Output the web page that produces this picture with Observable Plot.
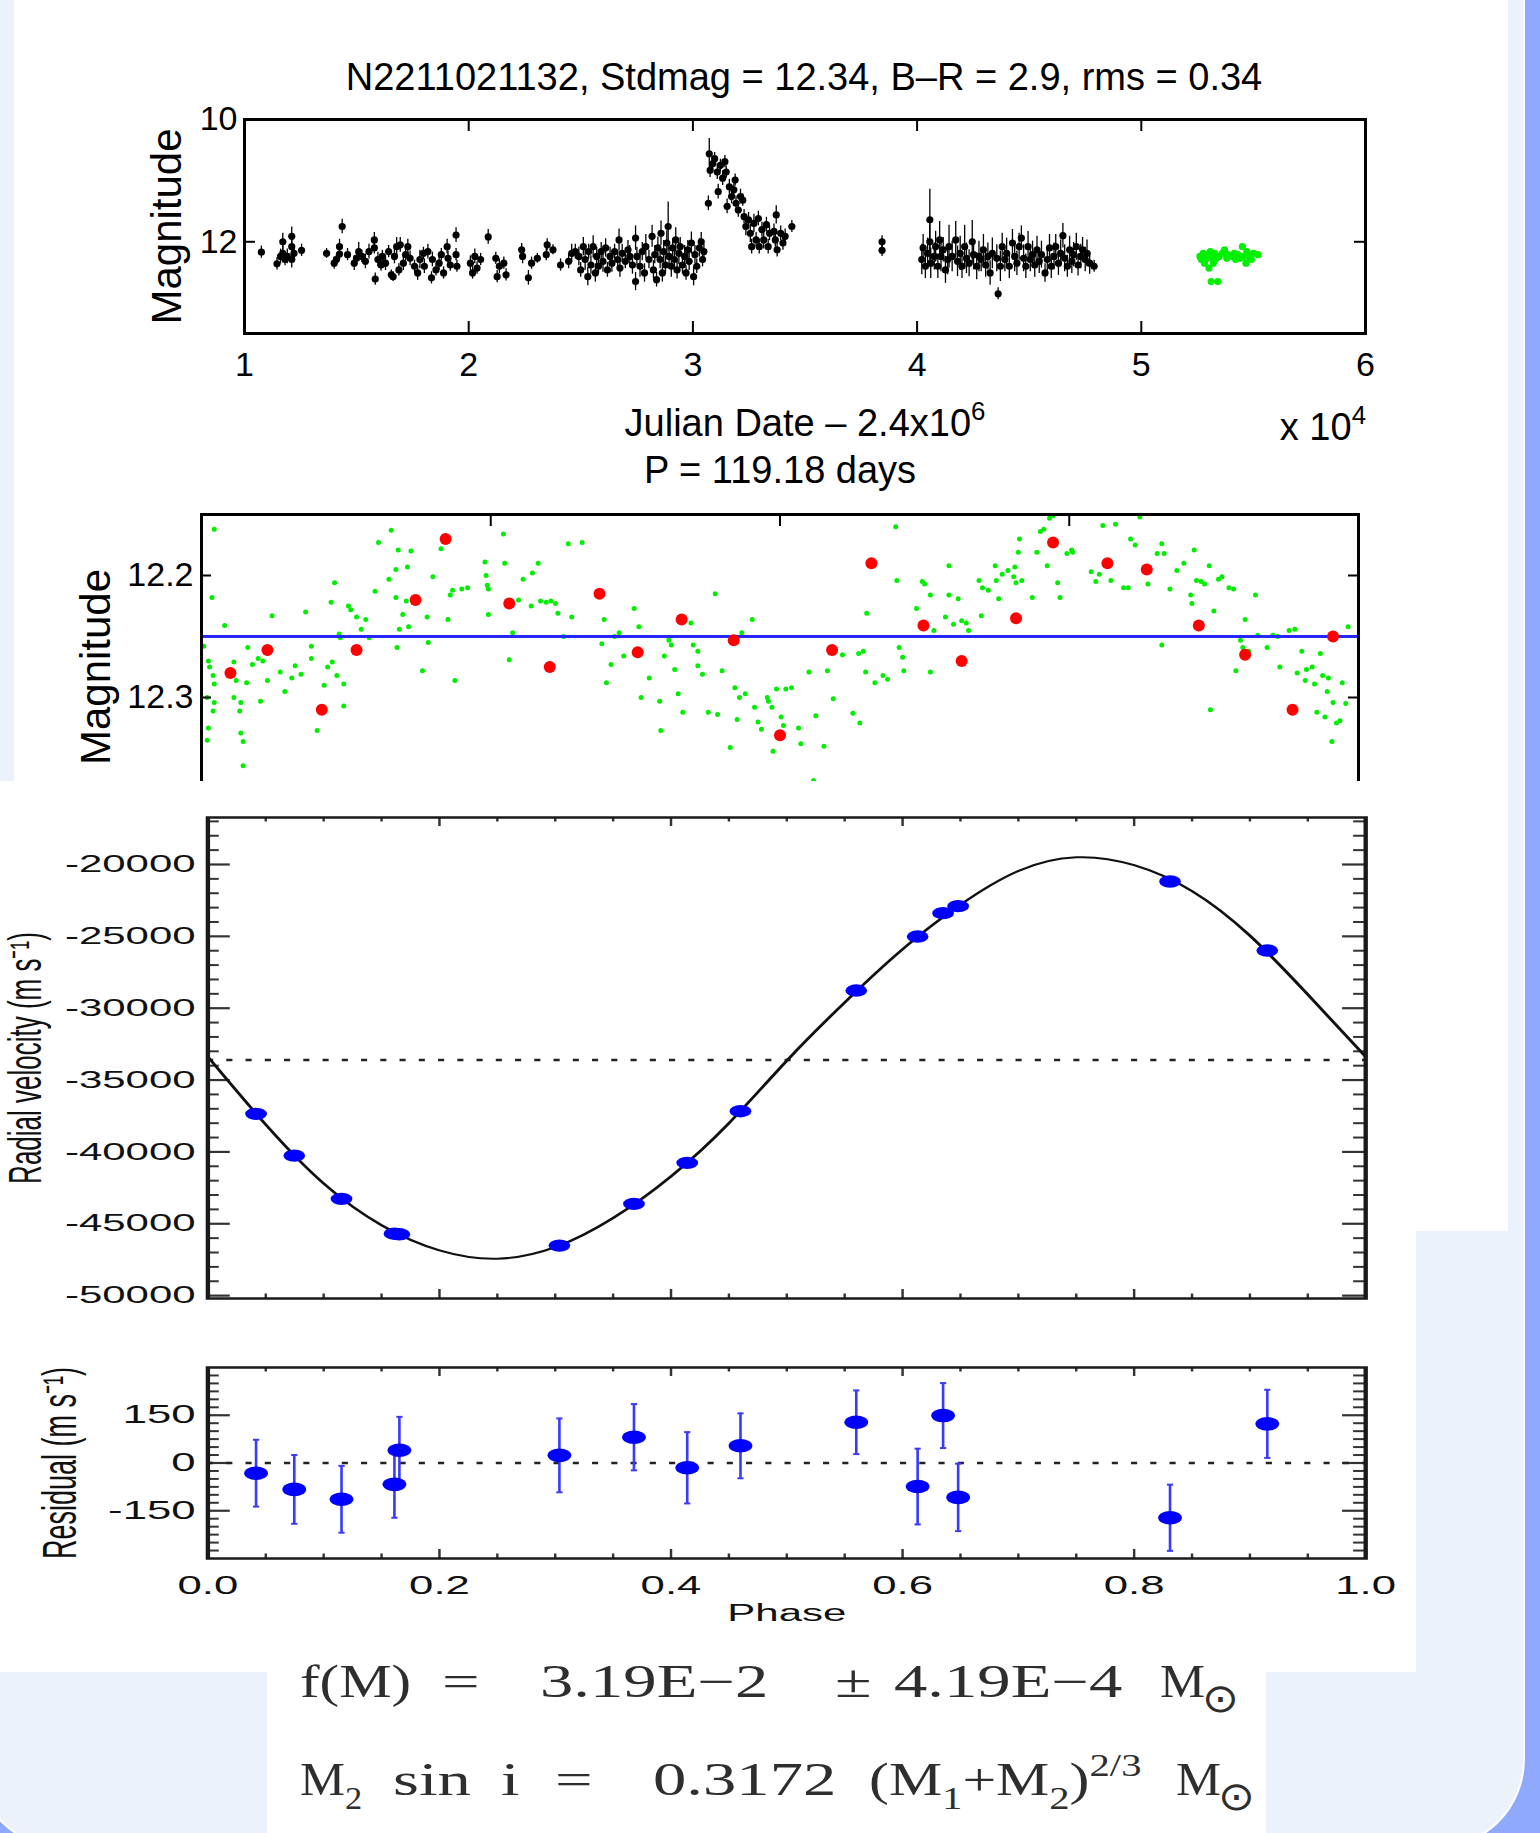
<!DOCTYPE html>
<html><head><meta charset="utf-8">
<script src="https://cdn.jsdelivr.net/npm/d3@7"></script>
<script src="https://cdn.jsdelivr.net/npm/@observablehq/plot@0.6"></script>
<style>
html,body{margin:0;padding:0;}
body{width:1540px;height:1833px;position:relative;overflow:hidden;background:#8ea9fd;}
.bg{position:absolute;}
.holder{position:absolute;transform-origin:0 0;}
.holder svg{display:block;max-width:none;}
</style></head><body>
<script>
// ---------------- DATA ----------------
const titleText = "N2211021132, Stdmag = 12.34, B–R = 2.9, rms = 0.34";
const xLabelParts = [["Julian Date – 2.4x10"], ["6", "sup"]];
const xScaleParts = [["x 10"], ["4", "sup"]];
const periodText = "P = 119.18 days";
const magLabel = "Magnitude";
const rvLabel = "Radial velocity (m s⁻¹)";
const residLabel = "Residual (m s⁻¹)";
const phaseLabel = "Phase";

// light curve: [JD - 2.4e6, magnitude, error]
const lcTicks = [10000, 20000, 30000, 40000, 50000, 60000];
const lcTickLabels = ["1", "2", "3", "4", "5", "6"];
const lcMagTicks = [10, 12];
const lcMagTickLabels = ["10", "12"];
const lcBlack = [
[10753,12.17,0.10],[11450,12.36,0.10],[11609,12.24,0.12],[11709,12.00,0.14],[11709,12.19,0.12],[11808,12.29,0.10],[11908,12.24,0.12],[12107,11.91,0.15],[12107,12.08,0.12],[12107,12.29,0.14],[12207,12.19,0.10],[12545,12.14,0.10],
[13661,12.19,0.08],[14000,12.35,0.10],[14099,12.29,0.08],[14238,12.08,0.12],[14238,12.20,0.10],[14357,11.75,0.12],[14596,12.21,0.10],[14895,12.35,0.12],[14995,12.27,0.10],[15094,12.16,0.15],[15234,12.24,0.10],[15393,12.32,0.12],[15552,12.16,0.12],[15791,11.97,0.12],[15791,12.10,0.10],[15831,12.61,0.10],[15951,12.29,0.12],[16090,12.38,0.10],[16150,12.24,0.10],[16289,12.35,0.12],[16429,12.16,0.10],[16548,12.54,0.08],[16628,12.57,0.08],[16688,12.24,0.12],[16787,12.08,0.15],[16887,12.46,0.10],[16947,12.05,0.12],[17086,12.35,0.12],[17186,12.21,0.10],[17285,12.08,0.12],[17385,12.27,0.12],[17584,12.40,0.10],[17723,12.51,0.12],[17823,12.29,0.15],[17982,12.19,0.10],[18022,12.40,0.12],[18181,12.16,0.12],[18341,12.59,0.10],[18381,12.29,0.12],[18540,12.46,0.10],[18680,12.35,0.12],[18779,12.21,0.10],[18879,12.51,0.10],[19038,12.08,0.12],[19078,12.27,0.12],[19177,12.38,0.10],[19436,12.21,0.10],[19436,11.89,0.12],[19476,12.40,0.10],
[20074,12.35,0.12],[20173,12.51,0.10],[20273,12.24,0.12],[20372,12.43,0.10],[20532,12.29,0.10],[20870,11.92,0.12],[21209,12.27,0.10],[21269,12.57,0.10],[21368,12.40,0.12],[21567,12.35,0.10],[21667,12.54,0.10],
[22364,12.13,0.10],[22404,12.24,0.12],[22663,12.59,0.12],[22803,12.35,0.10],[23062,12.27,0.08],[23460,12.21,0.10],[23500,12.05,0.10],[23759,12.13,0.08],[24097,12.38,0.10],
[24456,12.32,0.12],[24595,12.19,0.15],[24754,12.16,0.12],[24914,12.24,0.15],[24993,12.46,0.12],[25113,12.08,0.15],[25193,12.29,0.18],[25312,12.57,0.15],[25352,12.16,0.12],[25451,12.38,0.15],[25551,12.08,0.18],[25650,12.51,0.15],[25710,12.24,0.15],[25790,12.40,0.12],[25909,12.16,0.15],[25989,12.32,0.18],[26108,12.10,0.15],[26188,12.46,0.12],[26307,12.24,0.15],[26387,12.35,0.15],[26507,12.16,0.12],[26646,12.29,0.15],[26706,11.97,0.18],[26746,12.43,0.15],[26845,12.19,0.15],[26985,12.32,0.12],[27104,12.13,0.15],[27184,12.24,0.18],[27304,12.38,0.15],[27443,11.94,0.20],[27443,12.65,0.15],[27503,12.24,0.15],[27642,12.40,0.18],[27742,12.16,0.15],[27841,12.51,0.15],[27901,12.08,0.20],[28040,12.29,0.15],[28180,11.91,0.18],[28240,12.46,0.15],[28299,12.21,0.15],[28379,12.62,0.12],[28439,12.10,0.18],[28538,12.29,0.15],[28578,11.86,0.20],[28638,12.51,0.15],[28698,12.16,0.18],[28777,12.38,0.15],[28837,12.02,0.20],[28897,11.75,0.40],[28937,12.24,0.15],[29036,12.40,0.18],[29096,12.10,0.15],[29176,12.29,0.18],[29235,11.97,0.20],[29295,12.46,0.15],[29375,12.19,0.18],[29435,12.08,0.15],[29534,12.38,0.15],[29634,12.24,0.18],[29694,12.51,0.12],[29773,12.13,0.15],[29833,12.32,0.15],[29933,12.02,0.18],[30032,12.57,0.15],[30092,12.21,0.15],[30172,12.40,0.12],[30291,12.10,0.15],[30371,12.00,0.15],[30431,12.29,0.12],[30491,12.16,0.12],
[30690,11.37,0.12],[30730,10.56,0.25],[30769,10.83,0.12],[30889,10.72,0.10],[30968,10.64,0.10],[31088,10.86,0.12],[31128,11.18,0.12],[31227,10.75,0.10],[31327,10.96,0.12],[31427,10.69,0.10],[31486,10.86,0.10],[31526,11.42,0.12],[31626,11.10,0.12],[31725,11.26,0.12],[31825,11.15,0.10],[31884,10.99,0.10],[31924,11.37,0.12],[32024,11.48,0.12],[32123,11.26,0.12],[32223,11.32,0.10],[32283,11.59,0.12],[32362,11.75,0.15],[32482,11.64,0.12],[32561,11.86,0.15],[32621,12.08,0.12],[32721,11.70,0.15],[32820,11.97,0.12],[32920,11.62,0.12],[32960,12.08,0.12],[33080,11.80,0.12],[33159,11.97,0.15],[33279,11.72,0.12],[33358,12.08,0.12],[33418,11.86,0.12],[33617,11.83,0.12],[33677,11.97,0.12],[33717,11.56,0.15],[33757,12.13,0.12],[33916,11.86,0.12],[34016,12.02,0.12],[34115,11.91,0.12],[34414,11.75,0.10],
[38437,12.00,0.10],[38437,12.14,0.10],
[40209,12.29,0.25],[40269,12.10,0.22],[40369,12.40,0.20],[40468,12.19,0.25],[40568,11.64,0.50],[40568,12.00,0.30],[40608,12.35,0.25],[40767,12.24,0.22],[40827,12.08,0.25],[40926,12.40,0.20],[41006,11.97,0.30],[41066,12.24,0.25],[41165,12.13,0.20],[41265,12.46,0.22],[41365,12.29,0.25],[41424,12.08,0.35],[41564,12.24,0.25],[41723,11.97,0.30],[41803,12.32,0.25],[41922,12.19,0.28],[42002,12.40,0.20],[42121,12.08,0.35],[42201,12.27,0.25],[42320,12.35,0.22],[42460,12.00,0.35],[42520,12.21,0.25],[42659,12.40,0.22],[42759,12.24,0.25],[42858,12.29,0.20],[42958,12.13,0.25],[43057,12.38,0.20],[43157,12.24,0.22],[43257,12.51,0.20],[43356,12.19,0.25],[43615,12.85,0.10],[43555,12.27,0.22],[43715,12.40,0.25],[43795,12.08,0.22],[43914,12.29,0.20],[43994,12.19,0.25],[44113,12.40,0.20],[44253,12.02,0.22],[44352,12.24,0.25],[44452,12.35,0.20],[44551,12.08,0.22],[44651,11.94,0.20],[44750,12.27,0.22],[44850,12.40,0.20],[44950,12.08,0.25],[45049,12.29,0.20],[45149,12.21,0.22],[45248,12.38,0.20],[45348,12.13,0.22],[45448,12.32,0.20],[45547,12.21,0.22],[45706,12.51,0.15],[45806,12.29,0.20],[45905,12.10,0.22],[45985,12.40,0.20],[46105,12.24,0.22],[46184,12.08,0.20],[46304,12.35,0.20],[46403,12.19,0.22],[46503,11.90,0.20],[46583,12.27,0.22],[46702,12.40,0.18],[46802,12.13,0.22],[46901,12.32,0.20],[46981,12.21,0.20],[47101,12.08,0.22],[47180,12.38,0.18],[47300,12.24,0.20],[47380,12.13,0.20],[47499,12.29,0.20],[47579,12.19,0.22],[47698,12.35,0.18],[47897,12.40,0.10]
];
const lcGreen = [
[52618,12.24],[52678,12.29],[52758,12.19],[52817,12.35],[52877,12.21],[52957,12.27],[53016,12.43],[53076,12.16],[53116,12.65],[53156,12.24],[53215,12.35],[53275,12.19],[53355,12.27],[53414,12.65],[53474,12.24],[53614,12.19],[53713,12.13],[53813,12.27],[53872,12.21],[54071,12.24],[54151,12.19],[54211,12.29],[54310,12.21],[54410,12.27],[54510,12.08],[54569,12.24],[54669,12.35],[54709,12.16],[54808,12.24],[54908,12.29],[55007,12.19],[55207,12.21]
];

// phase-folded light curve: [phase, magnitude]
const foldMagTicks = [12.2, 12.3];
const foldPhaseTicks = [0.25, 0.5, 0.75];
const meanMag = 12.25;
const phasedGreen = [
[0.002,12.258],[0.006,12.270],[0.007,12.275],[0.011,12.162],[0.009,12.218],[0.010,12.282],[0.011,12.289],[0.005,12.300],[0.010,12.311],[0.006,12.325],[0.005,12.335],[0.011,12.304],
[0.020,12.241],[0.026,12.281],[0.028,12.271],[0.030,12.286],[0.028,12.300],[0.033,12.311],[0.034,12.329],[0.036,12.336],[0.036,12.356],[0.039,12.288],[0.034,12.304],
[0.040,12.259],[0.044,12.273],[0.049,12.268],[0.051,12.303],[0.053,12.270],[0.057,12.286],[0.061,12.233],[0.068,12.279],[0.072,12.295],[0.078,12.284],[0.081,12.274],
[0.086,12.281],[0.090,12.230],[0.095,12.258],[0.095,12.268],[0.100,12.327],[0.106,12.290],[0.109,12.275],[0.112,12.222],[0.113,12.271],[0.115,12.206],[0.117,12.282],[0.119,12.248],[0.120,12.251],[0.123,12.289],[0.123,12.307],[0.127,12.225],[0.129,12.228],
[0.134,12.234],[0.138,12.244],[0.142,12.236],[0.145,12.251],[0.150,12.213],[0.153,12.173],[0.162,12.203],[0.164,12.163],[0.168,12.195],[0.168,12.218],[0.169,12.259],[0.170,12.179],[0.171,12.244],[0.174,12.232],[0.177,12.221],[0.178,12.193],[0.179,12.242],[0.181,12.180],
[0.191,12.278],[0.195,12.234],[0.196,12.255],[0.200,12.201],[0.207,12.178],[0.213,12.236],[0.215,12.216],[0.217,12.212],[0.219,12.286],[0.225,12.211],
[0.230,12.210],[0.245,12.189],[0.246,12.200],[0.247,12.208],[0.248,12.211],[0.248,12.232],[0.261,12.166],[0.262,12.190],[0.266,12.269],[0.269,12.247],[0.274,12.220],[0.278,12.203],[0.285,12.225],[0.286,12.198],[0.291,12.190],[0.293,12.221],[0.298,12.222],[0.302,12.221],[0.306,12.223],[0.308,12.231],[0.313,12.250],[0.317,12.174],[0.320,12.234],[0.329,12.173],
[0.346,12.256],[0.348,12.236],[0.350,12.288],[0.354,12.273],[0.357,12.250],[0.361,12.247],[0.365,12.266],[0.374,12.227],[0.378,12.242],[0.380,12.300],[0.387,12.284],[0.396,12.303],[0.397,12.327],[0.400,12.266],[0.404,12.253],[0.406,12.257],[0.409,12.277],[0.412,12.297],[0.416,12.312],[0.423,12.239],[0.425,12.257],[0.429,12.262],[0.429,12.274],[0.433,12.281],[0.438,12.312],[0.444,12.215],[0.446,12.314],[0.450,12.278],[0.457,12.341],[0.461,12.292],[0.463,12.318],[0.465,12.300],[0.467,12.247],[0.470,12.297],[0.476,12.236],[0.478,12.308],[0.481,12.320],[0.484,12.326],[0.489,12.300],[0.490,12.303],[0.493,12.308],[0.494,12.344],[0.497,12.293],[0.501,12.316],[0.503,12.323],[0.505,12.293],[0.510,12.292],[0.516,12.325],[0.518,12.338],[0.525,12.279],[0.529,12.368],[0.531,12.315],[0.538,12.340],[0.541,12.278],[0.546,12.301],[0.554,12.265],[0.563,12.313],[0.568,12.264],[0.569,12.321],[0.572,12.262],[0.574,12.279],[0.575,12.231],[0.582,12.288],[0.589,12.282],[0.593,12.285],
[0.600,12.160],[0.601,12.204],[0.603,12.259],[0.606,12.267],[0.607,12.278],[0.618,12.227],[0.623,12.205],[0.625,12.207],[0.630,12.216],[0.630,12.279],[0.633,12.245],[0.643,12.234],[0.646,12.192],[0.646,12.216],[0.650,12.240],[0.654,12.219],[0.657,12.237],[0.661,12.239],[0.663,12.245],[0.672,12.204],[0.674,12.233],[0.675,12.210],[0.680,12.212],[0.686,12.192],[0.687,12.204],[0.689,12.219],[0.692,12.199],[0.697,12.196],[0.702,12.201],[0.703,12.193],[0.704,12.206],[0.706,12.181],[0.707,12.170],[0.709,12.204],[0.718,12.218],[0.722,12.181],[0.725,12.164],[0.728,12.162],[0.731,12.192],[0.733,12.153],[0.736,12.151],[0.740,12.206],[0.742,12.218],[0.748,12.182],[0.752,12.179],[0.753,12.181],
[0.769,12.197],[0.773,12.205],[0.776,12.199],[0.779,12.159],[0.786,12.204],[0.790,12.158],[0.797,12.210],[0.801,12.210],[0.803,12.170],[0.807,12.175],[0.811,12.152],[0.818,12.207],[0.826,12.182],[0.830,12.174],[0.832,12.182],[0.837,12.211],[0.843,12.196],[0.849,12.190],[0.855,12.216],[0.856,12.223],[0.858,12.179],[0.860,12.204],[0.864,12.205],[0.867,12.207],[0.871,12.192],[0.875,12.229],[0.879,12.203],[0.882,12.201],[0.888,12.210],[0.892,12.211],[0.894,12.278],[0.898,12.253],[0.900,12.259],[0.902,12.236],[0.905,12.262],[0.911,12.216],[0.913,12.249],[0.921,12.259],[0.926,12.249],[0.930,12.250],[0.932,12.275],[0.940,12.245],[0.945,12.244],[0.947,12.280],[0.951,12.262],[0.954,12.286],[0.955,12.277],[0.960,12.275],[0.962,12.289],[0.964,12.312],[0.967,12.264],[0.969,12.282],[0.971,12.316],[0.973,12.295],[0.974,12.284],[0.977,12.336],[0.978,12.304],[0.981,12.321],[0.984,12.319],[0.986,12.288],[0.989,12.305],[0.991,12.242],[0.872,12.310],[0.830,12.257]
];
const phasedRed = [
[0.025,12.280],[0.057,12.261],[0.104,12.310],[0.134,12.261],[0.185,12.220],[0.211,12.170],[0.266,12.223],[0.301,12.275],[0.344,12.215],[0.377,12.263],[0.415,12.236],[0.460,12.253],[0.500,12.331],[0.545,12.261],[0.579,12.190],[0.624,12.241],[0.657,12.270],[0.704,12.235],[0.736,12.173],[0.783,12.190],[0.817,12.195],[0.862,12.241],[0.902,12.265],[0.943,12.310],[0.978,12.250]
];

// radial velocity
const rvTicks = [-50000, -45000, -40000, -35000, -30000, -25000, -20000];
const rvTickLabels = ["-50000", "-45000", "-40000", "-35000", "-30000", "-25000", "-20000"];
const gammaVel = -33600;
const rvPhase = [0.0416, 0.0746, 0.1154, 0.1611, 0.1654, 0.3036, 0.368, 0.414, 0.46, 0.56, 0.613, 0.635, 0.648, 0.831, 0.915];
const rvVel = [-37355, -40255, -43271, -45690, -45730, -46520, -43619, -40766, -37169, -28770, -25012, -23387, -22900, -21183, -25986];
const fitPhase = [0, 0.05, 0.10, 0.15, 0.20, 0.25, 0.30, 0.35, 0.40, 0.45, 0.50, 0.55, 0.60, 0.65, 0.70, 0.75, 0.80, 0.85, 0.90, 0.95, 1.0];
const fitVel = [-33380, -38100, -42200, -45100, -46850, -47430, -46630, -44600, -41700, -38000, -33650, -29600, -25900, -22800, -20450, -19500, -20050, -21850, -24950, -29050, -33380];

// residuals
const residVal = [-32, -83, -114, -67, 40, 24, 81, -15, 54, 128, -74, 149, -108, -172, 123];
const residErr = [105, 108, 105, 105, 105, 116, 104, 112, 102, 100, 119, 102, 106, 104, 107];
const residTicks = [-150, 0, 150];
const residTickLabels = ["-150", "0", "150"];
const phaseTicks = [0, 0.2, 0.4, 0.6, 0.8, 1.0];
const phaseTickLabels = ["0.0", "0.2", "0.4", "0.6", "0.8", "1.0"];

// mass function text
const formulaLine1 = [
  [["f(M)"]], [["="]], [["3.19E−2"]], [["±"]], [["4.19E−4"]], [["M"], ["⊙", "sun"]]
];
const formulaLine2 = [
  [["M"], ["2", "sub"]], [["sin"]], [["i"]], [["="]], [["0.3172"]],
  [["(M"], ["1", "sub"], ["+M"], ["2", "sub"], [")"], ["2/3", "sup"]], [["M"], ["⊙", "sun"]]
];

// ---------------- LAYOUT ----------------
const FONT = "'Liberation Sans', Arial, Helvetica, sans-serif";
const SERIF = "'Liberation Serif', 'Times New Roman', serif";

function box(cls, css) {
  const d = document.createElement("div");
  d.className = cls; d.style.cssText = css;
  document.body.appendChild(d); return d;
}
// page backgrounds
box("bg", "left:-25px;top:-100px;width:1546px;height:1945px;border-radius:90px;background:#ebf2fb;border:2px solid #ffffff;");
box("bg", "left:14px;top:0;width:1494px;height:1231px;background:#fff;");
box("bg", "left:267px;top:1672px;width:999px;height:161px;background:#fff;");

function place(svg, left, top, sx, w, clipH) {
  const d = box("holder", `left:${left}px;top:${top}px;width:${w}px;transform:scaleX(${sx});` + (clipH ? `height:${clipH}px;overflow:hidden;` : ""));
  d.appendChild(svg);
}
function inwardTicks({fw, fh, xs = [], xLen = 0, ys = [], yLen = 0, sides, stroke = "black", sw = 2}) {
  const m = [];
  if (sides.includes("b")) m.push(Plot.ruleX(xs, {insetTop: fh - xLen, stroke, strokeWidth: sw}));
  if (sides.includes("t")) m.push(Plot.ruleX(xs, {insetBottom: fh - xLen, stroke, strokeWidth: sw}));
  if (sides.includes("l")) m.push(Plot.ruleY(ys, {insetRight: fw - yLen, stroke, strokeWidth: sw}));
  if (sides.includes("r")) m.push(Plot.ruleY(ys, {insetLeft: fw - yLen, stroke, strokeWidth: sw}));
  return m;
}
const labelMap = (ticks, labels) => { const mp = new Map(ticks.map((t, i) => [t, labels[i]])); return d => mp.get(d); };
const sideLabel = (txt, dx, size) => Plot.text([txt], {frameAnchor: "left", textAnchor: "middle", lineAnchor: "middle", rotate: -90, dx, fontSize: size});

// ---- Plot 1: light curve ----
{
  const W = 1540, H = 300, ml = 244, mr = 175, mt = 19, mb = 67;
  const fw = W - ml - mr, fh = H - mt - mb;
  const svg = Plot.plot({
    width: W, height: H, marginLeft: ml, marginRight: mr, marginTop: mt, marginBottom: mb,
    style: {background: "transparent", color: "black", fontFamily: FONT, fontSize: "34px", overflow: "visible"},
    x: {domain: [10000, 60000]},
    y: {domain: [10, 13.5], reverse: true},
    marks: [
      Plot.ruleX(lcBlack, {x: d => d[0], y1: d => d[1] - d[2], y2: d => d[1] + d[2], stroke: "black", strokeWidth: 1.3}),
      Plot.dot(lcBlack, {x: d => d[0], y: d => d[1], r: 3.6, fill: "black"}),
      Plot.dot(lcGreen, {x: d => d[0], y: d => d[1], r: 3.6, fill: "#00f000"}),
      ...inwardTicks({fw, fh, xs: lcTicks.slice(1, -1), xLen: 12, sides: "tb"}),
      ...inwardTicks({fw, fh, ys: [12], yLen: 11, sides: "lr"}),
      Plot.frame({stroke: "black", strokeWidth: 3}),
      Plot.axisX({ticks: lcTicks, tickFormat: labelMap(lcTicks, lcTickLabels), tickSize: 0, tickPadding: 18, label: null}),
      Plot.axisY({ticks: lcMagTicks, tickFormat: labelMap(lcMagTicks, lcMagTickLabels), tickSize: 0, tickPadding: 7, label: null}),
      sideLabel(magLabel, -77, 42)
    ]
  });
  place(svg, 0, 100, 1, W);
}

// ---- Plot 2: phase-folded light curve ----
{
  const W = 1540, H = 329, ml = 201, mr = 182, mt = 14, mb = 10;
  const fw = W - ml - mr, fh = H - mt - mb;
  const svg = Plot.plot({
    width: W, height: H, marginLeft: ml, marginRight: mr, marginTop: mt, marginBottom: mb,
    style: {background: "transparent", color: "black", fontFamily: FONT, fontSize: "34px", overflow: "visible"},
    x: {domain: [0, 1], axis: null},
    y: {domain: [12.15, 12.40], reverse: true},
    marks: [
      Plot.dot(phasedGreen, {x: d => d[0], y: d => d[1], r: 2.5, fill: "#00ee00"}),
      Plot.ruleY([meanMag], {stroke: "#2626ff", strokeWidth: 3}),
      Plot.dot(phasedRed, {x: d => d[0], y: d => d[1], r: 6, fill: "#ff0000"}),
      ...inwardTicks({fw, fh, xs: foldPhaseTicks, xLen: 12, sides: "t"}),
      ...inwardTicks({fw, fh, ys: foldMagTicks, yLen: 10, sides: "lr"}),
      Plot.frame({stroke: "black", strokeWidth: 3}),
      Plot.axisY({ticks: foldMagTicks, tickFormat: d3.format(".1f"), tickSize: 0, tickPadding: 8, label: null}),
      sideLabel(magLabel, -105, 42)
    ]
  });
  place(svg, 0, 500, 1, W, 281);
}

// white panel behind the RV figure
box("bg", "left:0;top:781px;width:1416px;height:891px;background:#fff;");

const SX = 1.75;
const rvData = rvPhase.map((p, i) => ({phase: p, v: rvVel[i], res: residVal[i], err: residErr[i]}));
const fitData = fitPhase.map((p, i) => ({phase: p, v: fitVel[i]}));
const minorPhase = d3.range(1, 20).filter(i => i % 4 !== 0).map(i => i / 20);
const majorPhase = [0.2, 0.4, 0.6, 0.8];

// ---- Plot 3: radial velocity ----
{
  const W = 809, H = 559, ml = 118.3, mr = 29.1, mt = 36, mb = 42;
  const fw = W - ml - mr, fh = H - mt - mb;
  const minorV = d3.range(-50000, -16000, 1000).filter(v => v % 5000 !== 0);
  const svg = Plot.plot({
    width: W, height: H, marginLeft: ml, marginRight: mr, marginTop: mt, marginBottom: mb,
    style: {background: "transparent", color: "#111", fontFamily: FONT, fontSize: "24px", overflow: "visible"},
    x: {domain: [0, 1], axis: null},
    y: {domain: [-50200, -16730]},
    marks: [
      ...inwardTicks({fw, fh, ys: minorV, yLen: 6.7, sides: "lr", stroke: "#333", sw: 2}),
      ...inwardTicks({fw, fh, ys: rvTicks, yLen: 13, sides: "lr", stroke: "#333", sw: 2.2}),
      ...inwardTicks({fw, fh, xs: minorPhase, xLen: 4.5, sides: "tb", stroke: "#333", sw: 1.4}),
      ...inwardTicks({fw, fh, xs: majorPhase, xLen: 9, sides: "tb", stroke: "#333", sw: 1.4}),
      Plot.ruleY([gammaVel], {stroke: "#222", strokeWidth: 2.5, strokeDasharray: "3.5,7.5"}),
      Plot.line(fitData, {x: "phase", y: "v", curve: "natural", stroke: "#111", strokeWidth: 2}),
      Plot.dot(rvData, {x: "phase", y: "v", r: 6.2, fill: "#0000ff"}),
      Plot.frame({stroke: "#1a1a1a", strokeWidth: 2.5}),
      Plot.axisY({ticks: rvTicks, tickFormat: labelMap(rvTicks, rvTickLabels), tickSize: 0, tickPadding: 7, label: null}),
      sideLabel(rvLabel, -103.5, 26)
    ]
  });
  place(svg, 0, 781, SX, W);
}

// ---- Plot 4: residuals ----
{
  const W = 809, H = 300, ml = 118.3, mr = 29.1, mt = 27, mb = 82;
  const fw = W - ml - mr, fh = H - mt - mb;
  const minorR = d3.range(-275, 300, 25).filter(v => v % 150 !== 0);
  const cap = {draw(ctx, size) { const w = Math.sqrt(size); ctx.moveTo(-w, 0); ctx.lineTo(w, 0); }};
  const svg = Plot.plot({
    width: W, height: H, marginLeft: ml, marginRight: mr, marginTop: mt, marginBottom: mb,
    style: {background: "transparent", color: "#111", fontFamily: FONT, fontSize: "25px", overflow: "visible"},
    x: {domain: [0, 1]},
    y: {domain: [-300, 300]},
    marks: [
      ...inwardTicks({fw, fh, ys: minorR, yLen: 6.7, sides: "lr", stroke: "#333", sw: 2}),
      ...inwardTicks({fw, fh, ys: residTicks, yLen: 13, sides: "lr", stroke: "#333", sw: 2.2}),
      ...inwardTicks({fw, fh, xs: minorPhase, xLen: 4.5, sides: "tb", stroke: "#333", sw: 1.4}),
      ...inwardTicks({fw, fh, xs: majorPhase, xLen: 9, sides: "tb", stroke: "#333", sw: 1.4}),
      Plot.ruleY([0], {stroke: "#222", strokeWidth: 2.5, strokeDasharray: "3.5,7.5"}),
      Plot.ruleX(rvData, {x: "phase", y1: d => d.res - d.err, y2: d => d.res + d.err, stroke: "#3a3aff", strokeWidth: 1.5}),
      Plot.dot(rvData, {x: "phase", y: d => d.res + d.err, symbol: cap, r: 1, stroke: "#3a3aff", strokeWidth: 2}),
      Plot.dot(rvData, {x: "phase", y: d => d.res - d.err, symbol: cap, r: 1, stroke: "#3a3aff", strokeWidth: 2}),
      Plot.dot(rvData, {x: "phase", y: "res", r: 6.8, fill: "#0000ff"}),
      Plot.frame({stroke: "#1a1a1a", strokeWidth: 2.5}),
      Plot.axisY({ticks: residTicks, tickFormat: labelMap(residTicks, residTickLabels), tickSize: 0, tickPadding: 7, label: null}),
      Plot.axisX({ticks: phaseTicks, tickFormat: labelMap(phaseTicks, phaseTickLabels), tickSize: 0, tickPadding: 18, label: null}),
      Plot.text([phaseLabel], {frameAnchor: "bottom", textAnchor: "middle", lineAnchor: "middle", dy: 55, fontSize: 24}),
      sideLabel(residLabel, -84, 27)
    ]
  });
  place(svg, 0, 1340, SX, W);
}

// ---- overlay texts ----
function richText(sel, parts, size) {
  let shift = 0;
  parts.forEach(([t, mode]) => {
    const target = mode === "sub" ? size * 0.3 : mode === "sup" ? -size * 0.42 : mode === "sun" ? size * 0.33 : 0;
    const ts = sel.append("tspan").attr("dy", target - shift).text(t);
    if (mode === "sun") ts.attr("font-size", size * 0.88).attr("dx", -3);
    else if (mode) ts.attr("font-size", size * 0.68);
    shift = target;
  });
}
const over = d3.select(document.body).append("svg")
  .attr("width", 1540).attr("height", 1833)
  .style("position", "absolute").style("left", 0).style("top", 0).style("pointer-events", "none");
const topText = over.append("g").attr("font-family", FONT).attr("fill", "black");
topText.append("text").attr("x", 804).attr("y", 90).attr("text-anchor", "middle").attr("font-size", 38).text(titleText);
richText(topText.append("text").attr("x", 805).attr("y", 436).attr("text-anchor", "middle").attr("font-size", 38), xLabelParts, 38);
richText(topText.append("text").attr("x", 1366).attr("y", 440).attr("text-anchor", "end").attr("font-size", 38), xScaleParts, 38);
topText.append("text").attr("x", 780).attr("y", 483).attr("text-anchor", "middle").attr("font-size", 38).text(periodText);

const fx1 = [300, 442, 540, 835, 894, 1160];
const fs1 = [1.28, 1.45, 1.45, 1.45, 1.45, 1.1];
const fx2 = [300, 393, 501, 555, 653, 869, 1176];
const fs2 = [1.1, 1.45, 1.45, 1.45, 1.45, 1.3, 1.1];
const fg = over.append("g").attr("font-family", SERIF).attr("fill", "#2e2e2e").attr("font-size", 46);
[[formulaLine1, fx1, fs1, 1697], [formulaLine2, fx2, fs2, 1795]].forEach(([line, xs, ss, base]) => {
  line.forEach((tok, i) => {
    const t = fg.append("text").attr("transform", `translate(${xs[i]},${base}) scale(${ss[i]},1)`);
    richText(t, tok, 46);
  });
});
</script>
</body></html>
